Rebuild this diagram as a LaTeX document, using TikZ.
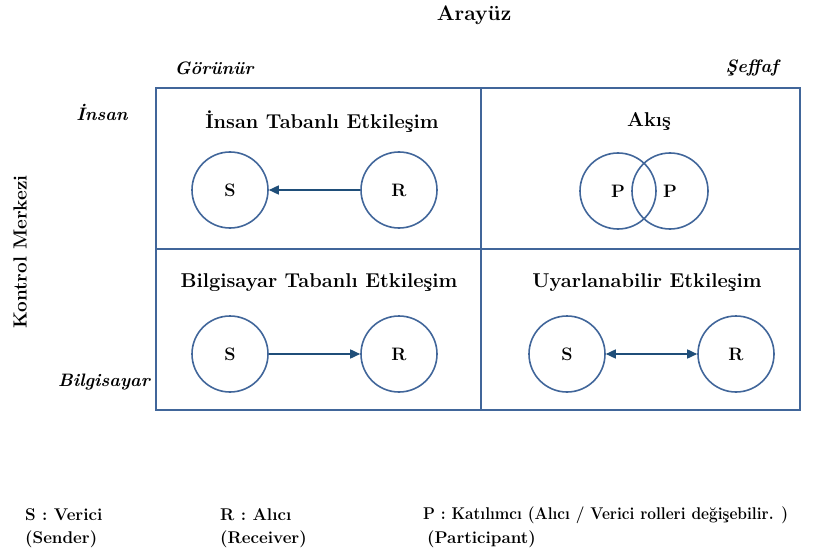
\documentclass[tikz,border=0pt]{standalone}
\usepackage{fontspec}
\setmainfont{Latin Modern Roman}
\usepackage{tikz}
\usetikzlibrary{arrows.meta, positioning}
\definecolor{edgeblue}{HTML}{41669A}
\definecolor{arrowblue}{HTML}{1F4E79}
\tikzstyle{party} = [circle, minimum size=76pt, inner sep=0pt, draw=edgeblue, line width=1.6pt, font=\fontsize{18}{20}\selectfont\bfseries]
\tikzstyle{quadtitle} = [font=\fontsize{20}{22}\selectfont\bfseries]
\tikzstyle{axislabel} = [font=\fontsize{18}{20}\selectfont\bfseries\itshape]
\tikzstyle{legend} = [font=\fontsize{17}{19}\selectfont\bfseries, anchor=west, inner sep=0pt]
\tikzstyle{arrow} = [line width=1.6pt, draw=arrowblue, -{Triangle[length=10pt,width=9pt]}]

\begin{document}
\begin{tikzpicture}[x=1pt, y=-1pt]
      \useasboundingbox (0,0) rectangle (818,556);

      % Grid
      \draw[edgeblue, line width=1.6pt] (156,88) rectangle (800,410);
      \draw[edgeblue, line width=1.6pt] (481,88) -- (481,410);
      \draw[edgeblue, line width=1.6pt] (156,249) -- (800,249);

      % Axis labels
      \node[font=\fontsize{21}{23}\selectfont\bfseries] (arayuz) at (474,15) {Arayüz};
      \node[axislabel] (gorunur) at (214,68) {Görünür};
      \node[axislabel] (seffaf) at (752,68) {Şeffaf};
      \node[axislabel] (insan) at (102,112) {İnsan};
      \node[axislabel] (bilgisayar) at (104,382) {Bilgisayar};
      \node[font=\fontsize{19}{21}\selectfont\bfseries, rotate=90] (kontrol) at (20,252) {Kontrol Merkezi};

      % Human based interaction
      \node[quadtitle] (t1) at (322,122) {İnsan Tabanlı Etkileşim};
      \node[party] (s1) at (230,190) {S};
      \node[party] (r1) at (399,190) {R};
      \draw[arrow] (r1) -- (s1);

      % Flow
      \node[quadtitle] (t2) at (649,122) {Akış};
      \node[party] (p1) at (618,191) {P};
      \node[party] (p2) at (670,191) {P};

      % Computer based interaction
      \node[quadtitle] (t3) at (319,283) {Bilgisayar Tabanlı Etkileşim};
      \node[party] (s3) at (230,354) {S};
      \node[party] (r3) at (399,354) {R};
      \draw[arrow] (s3) -- (r3);

      % Adaptive interaction
      \node[quadtitle] (t4) at (647,283) {Uyarlanabilir Etkileşim};
      \node[party] (s4) at (567,354) {S};
      \node[party] (r4) at (736,354) {R};
      \draw[arrow, {Triangle[length=10pt,width=9pt]}-{Triangle[length=10pt,width=9pt]}] (s4) -- (r4);

      % Legend
      \node[legend] (ls) at (25,515) {S : Verici};
      \node[legend] (lsen) at (25,539) {(Sender)};
      \node[legend] (lr) at (220,515) {R : Alıcı};
      \node[legend] (lrec) at (220,539) {(Receiver)};
      \node[legend] (lp) at (423,515) {\scalebox{0.91}[1]{P : Katılımcı (Alıcı / Verici rolleri değişebilir. )}};
      \node[legend] (lpar) at (427,539) {(Participant)};
    \end{tikzpicture}
\end{document}
